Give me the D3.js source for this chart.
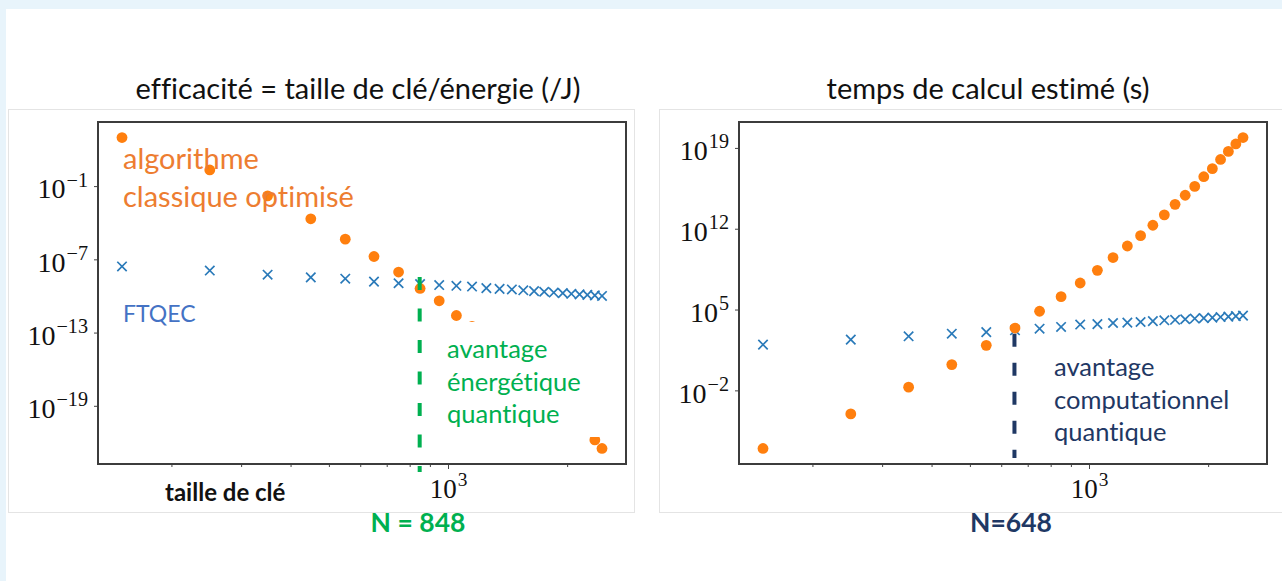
<!DOCTYPE html>
<html>
<head>
<meta charset="utf-8">
<script src="https://cdn.jsdelivr.net/npm/d3@7"></script>
<style>
  html, body { margin: 0; padding: 0; background: #fff; }
  svg { display: block; font-variant-ligatures: none; }
</style>
</head>
<body>
<script>
// key sizes (x values, shared by both charts)
const keySizes = [150, 250, 350, 450, 550, 650, 750, 850, 950, 1050, 1150, 1250,
  1350, 1450, 1550, 1650, 1750, 1850, 1950, 2050, 2150, 2250, 2350, 2450];

// left chart: efficiency (key size / energy, 1/J)
// null = hidden behind the "avantage énergétique quantique" label
const effClassical = [9.5e2, 2.1e0, 1.6e-2, 2.1e-4, 4.5e-6, 1.7e-7, 9.1e-9, 4.1e-10,
  4.0e-11, 2.5e-12, 3.2e-13, null, null, null, null, null, null, null, null, null,
  null, null, 1.6e-22, 3.2e-23];
const effQuantum = [2.6e-8, 1.2e-8, 5.5e-9, 3.3e-9, 2.6e-9, 1.5e-9, 1.1e-9, 9.3e-10,
  7.8e-10, 6.8e-10, 5.9e-10, 4.4e-10, 3.8e-10, 3.4e-10, 2.9e-10, 2.5e-10, 2.2e-10,
  1.9e-10, 1.7e-10, 1.5e-10, 1.35e-10, 1.23e-10, 1.12e-10, 1.0e-10];

// right chart: estimated computation time (s)
const timeClassical = [9.3e-8, 9.1e-5, 1.9e-2, 1.7e0, 7.9e1, 2.5e3, 7.1e4, 1.3e6,
  2.0e7, 2.5e8, 3.2e9, 3.2e10, 2.5e11, 2.0e12, 1.6e13, 1.3e14, 7.9e14, 4.6e15,
  3.2e16, 1.6e17, 1.0e18, 5.0e18, 2.2e19, 7.9e19];
const timeQuantum = [9.1e1, 2.5e2, 4.8e2, 8.1e2, 1.1e3, 1.6e3, 2.2e3, 3.1e3, 5.0e3,
  5.5e3, 6.8e3, 7.4e3, 8.3e3, 1.0e4, 1.17e4, 1.29e4, 1.45e4, 1.66e4, 1.82e4, 2.0e4,
  2.24e4, 2.45e4, 2.7e4, 3.0e4];

const effTicks = [1e-1, 1e-7, 1e-13, 1e-19];
const timeTicks = [1e-2, 1e5, 1e12, 1e19];
const xMinorTicks = [200, 300, 400, 500, 600, 700, 800, 900, 2000];
const xMajorTicks = [1000];

const orange = '#ff7f0e';
const blue = '#2a7ab9';
const green = '#00b050';
const navy = '#1f3864';

const width = 1282;
const height = 581;

const svg = d3.select('body').append('svg')
  .attr('width', width).attr('height', height)
  .style('font-family', 'Lato, "Open Sans", sans-serif');

// page background + panels
svg.append('rect').attr('width', width).attr('height', height).attr('fill', '#fff');
svg.append('rect').attr('width', width).attr('height', 9).attr('fill', '#e8f4fb');
svg.append('rect').attr('width', 6).attr('height', height).attr('fill', '#e8f4fb');
svg.append('rect').attr('x', 8.5).attr('y', 109.5).attr('width', 626).attr('height', 403)
  .attr('fill', '#fff').attr('stroke', '#e4e4e4');
svg.append('rect').attr('x', 659.5).attr('y', 109.5).attr('width', 640).attr('height', 403)
  .attr('fill', '#fff').attr('stroke', '#e4e4e4');

// log domain padded by 5% like matplotlib
function padLog(values) {
  const e = d3.extent(values.filter((v) => v != null)).map(Math.log10);
  const p = (e[1] - e[0]) * 0.05;
  return [10 ** (e[0] - p), 10 ** (e[1] + p)];
}

function exponent(d) {
  return String(Math.round(Math.log10(d))).replace('-', '\u2212');
}

function powerLabel(sel, size) {
  sel.each(function (d) {
    const t = d3.select(this).text(null)
      .attr('font-family', '"Liberation Serif", "Times New Roman", serif')
      .attr('font-size', size).attr('fill', '#111');
    t.append('tspan').text('10');
    t.append('tspan').attr('dy', -size * 0.42).attr('dx', 1)
      .attr('font-size', size * 0.72).text(exponent(d));
  });
}

function drawChart(cfg) {
  const top = 122;
  const bottom = 464;
  const x = d3.scaleLog().domain(padLog(keySizes)).range([cfg.left, cfg.left + 528]);
  const y = d3.scaleLog().domain(padLog(cfg.classical.concat(cfg.quantum))).range([bottom, top]);
  const g = svg.append('g');

  // y axis
  const yAxis = d3.axisLeft(y).tickValues(cfg.yTicks).tickSize(4).tickPadding(6);
  const ya = g.append('g').attr('transform', `translate(${cfg.left},0)`).call(yAxis);
  ya.select('.domain').remove();
  ya.selectAll('.tick line').attr('stroke', '#444');
  ya.selectAll('.tick text').attr('dy', '0.42em').call(powerLabel, 28);

  // x axis, minor + major ticks
  const xa = g.append('g').attr('transform', `translate(0,${bottom})`);
  xa.call(d3.axisBottom(x).tickValues(xMinorTicks).tickSize(3).tickFormat(''));
  const xm = g.append('g').attr('transform', `translate(0,${bottom})`)
    .call(d3.axisBottom(x).tickValues(xMajorTicks).tickSize(5).tickPadding(8));
  xa.select('.domain').remove();
  xm.select('.domain').remove();
  g.selectAll('.tick line').attr('stroke', '#444');
  xm.selectAll('.tick text').attr('dy', '0.76em').call(powerLabel, 27);

  // series: quantum (x markers) then classical (dots)
  const pts = keySizes.map((k, i) => ({ k, c: cfg.classical[i], q: cfg.quantum[i] }));
  g.append('g').selectAll('path').data(pts).enter().append('path')
    .attr('transform', (d) => `translate(${x(d.k)},${y(d.q)})`)
    .attr('d', 'M-4.7,-4.7L4.7,4.7M-4.7,4.7L4.7,-4.7')
    .attr('stroke', blue).attr('stroke-width', 1.7).attr('fill', 'none');
  g.append('g').selectAll('circle').data(pts.filter((d) => d.c != null)).enter().append('circle')
    .attr('cx', (d) => x(d.k)).attr('cy', (d) => y(d.c)).attr('r', 5.4)
    .attr('fill', orange);

  // frame
  g.append('rect').attr('x', cfg.left).attr('y', top).attr('width', 528).attr('height', bottom - top)
    .attr('fill', 'none').attr('stroke', '#3c3c3c').attr('stroke-width', 2);

  return { g, x, y, top, bottom };
}

// ---- left chart
const L = drawChart({ left: 98, classical: effClassical, quantum: effQuantum, yTicks: effTicks });

// label box hides the classical points behind it
L.g.append('rect').attr('x', 430).attr('y', 322).attr('width', 170).attr('height', 115)
  .attr('fill', '#fff');
L.g.append('line')
  .attr('x1', L.x(848)).attr('x2', L.x(848))
  .attr('y1', L.y(3.5e-9)).attr('y2', L.bottom + 8)
  .attr('stroke', green).attr('stroke-width', 4).attr('stroke-dasharray', '13,18.5');

svg.append('text').attr('x', 358).attr('y', 99).attr('text-anchor', 'middle')
  .attr('font-size', 29).attr('fill', '#111')
  .text('efficacité = taille de clé/énergie (/J)');

const algo = svg.append('text').attr('font-size', 29).attr('fill', '#ed7d31');
algo.append('tspan').attr('x', 123).attr('y', 169).text('algorithme');
algo.append('tspan').attr('x', 123).attr('y', 207).text('classique optimisé');

svg.append('text').attr('x', 123).attr('y', 322).attr('font-size', 23)
  .attr('fill', '#4472c4').text('FTQEC');

const adv = svg.append('text').attr('font-size', 25.5).attr('fill', green);
['avantage', 'énergétique', 'quantique'].forEach((s, i) => {
  adv.append('tspan').attr('x', 447).attr('y', 358 + i * 32.5).text(s);
});

svg.append('text').attr('x', 165).attr('y', 501).attr('font-size', 24)
  .attr('font-weight', 'bold').attr('fill', '#111').text('taille de clé');
svg.append('text').attr('x', 418).attr('y', 532).attr('text-anchor', 'middle')
  .attr('font-size', 26.5).attr('font-weight', 'bold').attr('fill', green).text('N = 848');

// ---- right chart
const R = drawChart({ left: 739, classical: timeClassical, quantum: timeQuantum, yTicks: timeTicks });

R.g.append('line')
  .attr('x1', R.x(648)).attr('x2', R.x(648))
  .attr('y1', R.y(8e2)).attr('y2', R.bottom - 6)
  .attr('stroke', navy).attr('stroke-width', 4).attr('stroke-dasharray', '13,16');

svg.append('text').attr('x', 988).attr('y', 99).attr('text-anchor', 'middle')
  .attr('font-size', 29).attr('fill', '#111').text('temps de calcul estimé (s)');

const comp = svg.append('text').attr('font-size', 25.5).attr('fill', navy);
['avantage', 'computationnel', 'quantique'].forEach((s, i) => {
  comp.append('tspan').attr('x', 1054).attr('y', 376 + i * 32.5).text(s);
});

svg.append('text').attr('x', 1011).attr('y', 532).attr('text-anchor', 'middle')
  .attr('font-size', 26.5).attr('font-weight', 'bold').attr('fill', navy).text('N=648');
</script>
</body>
</html>
